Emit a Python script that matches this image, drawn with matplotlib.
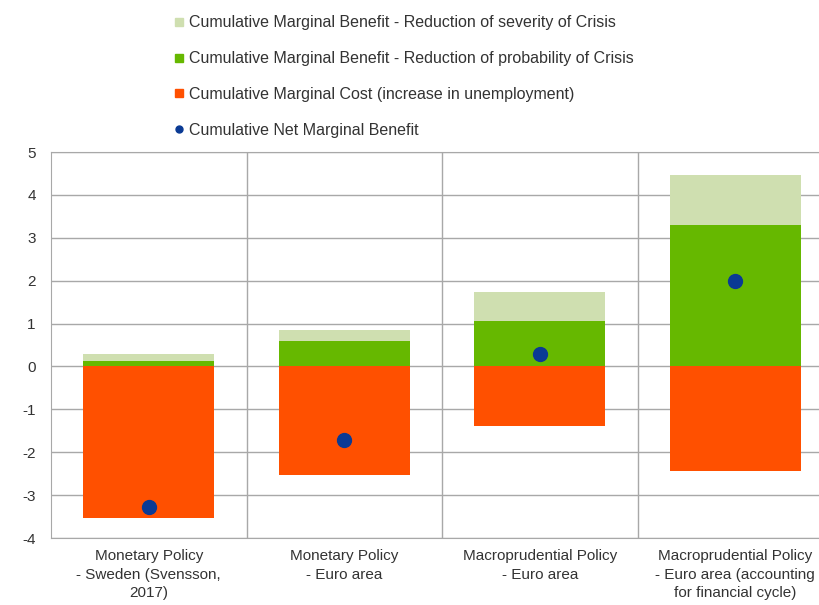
import numpy as np
import matplotlib.pyplot as plt
from matplotlib.lines import Line2D

# data
categories = ['Monetary Policy\n- Sweden (Svensson,\n2017)',
              'Monetary Policy\n- Euro area',
              'Macroprudential Policy\n- Euro area',
              'Macroprudential Policy\n- Euro area (accounting\nfor financial cycle)']
severity = [0.18, 0.25, 0.69, 1.17]      # reduction of severity of crisis
probability = [0.12, 0.59, 1.05, 3.29]   # reduction of probability of crisis
cost = [-3.53, -2.52, -1.40, -2.44]      # increase in unemployment
net = [-3.28, -1.71, 0.29, 1.99]

labels = ['Cumulative Marginal Benefit - Reduction of severity of Crisis',
          'Cumulative Marginal Benefit - Reduction of probability of Crisis',
          'Cumulative Marginal Cost (increase in unemployment)',
          'Cumulative Net Marginal Benefit']
c_sev = '#cfdfb0'
c_prob = '#66b800'
c_cost = '#ff5000'
c_net = '#0a3a94'

plt.rcParams['font.family'] = ['Liberation Sans', 'DejaVu Sans']
plt.rcParams['axes.unicode_minus'] = False

fig = plt.figure(figsize=(8.19, 6.05), dpi=100)
ax = fig.add_axes([51 / 819, 1 - 538 / 605, (833 - 51) / 819, (538 - 152) / 605])

x = np.arange(len(categories))
w = 0.67
ax.bar(x, cost, w, color=c_cost, zorder=3)
ax.bar(x, probability, w, color=c_prob, zorder=3)
ax.bar(x, severity, w, bottom=probability, color=c_sev, zorder=3)
ax.scatter(x, net, s=100, color=c_net, zorder=4)

ax.set_xlim(-0.5, 3.5)
ax.set_ylim(-4, 5)
ax.set_yticks(range(-4, 6))
ax.set_xticks(x)
ax.set_xticklabels(categories, fontsize=11, color='#333333', linespacing=1.4)
ax.tick_params(axis='y', labelsize=11, colors='#333333', length=0, pad=11)
ax.tick_params(axis='x', length=0, pad=8)
ax.set_xticks([0.5, 1.5, 2.5], minor=True)
ax.tick_params(axis='x', which='minor', length=0)
ax.grid(axis='y', color='#a8a8a8', lw=1, zorder=0)
ax.grid(axis='x', which='minor', color='#a8a8a8', lw=1, zorder=0)
ax.grid(axis='x', which='major', visible=False)
for s in ax.spines.values():
    s.set_color('#a8a8a8')

handles = [Line2D([], [], ls='', marker='s', ms=6, color=c_sev),
           Line2D([], [], ls='', marker='s', ms=6, color=c_prob),
           Line2D([], [], ls='', marker='s', ms=6, color=c_cost),
           Line2D([], [], ls='', marker='o', ms=5, color=c_net)]
fig.legend(handles, labels, loc='upper left', bbox_to_anchor=(168 / 819, 1 - 9 / 605),
           frameon=False, fontsize=11.5, labelspacing=1.3, handlelength=0.6,
           handletextpad=0.3, borderaxespad=0, labelcolor='#333333')

fig.savefig('out.png', dpi=100)
